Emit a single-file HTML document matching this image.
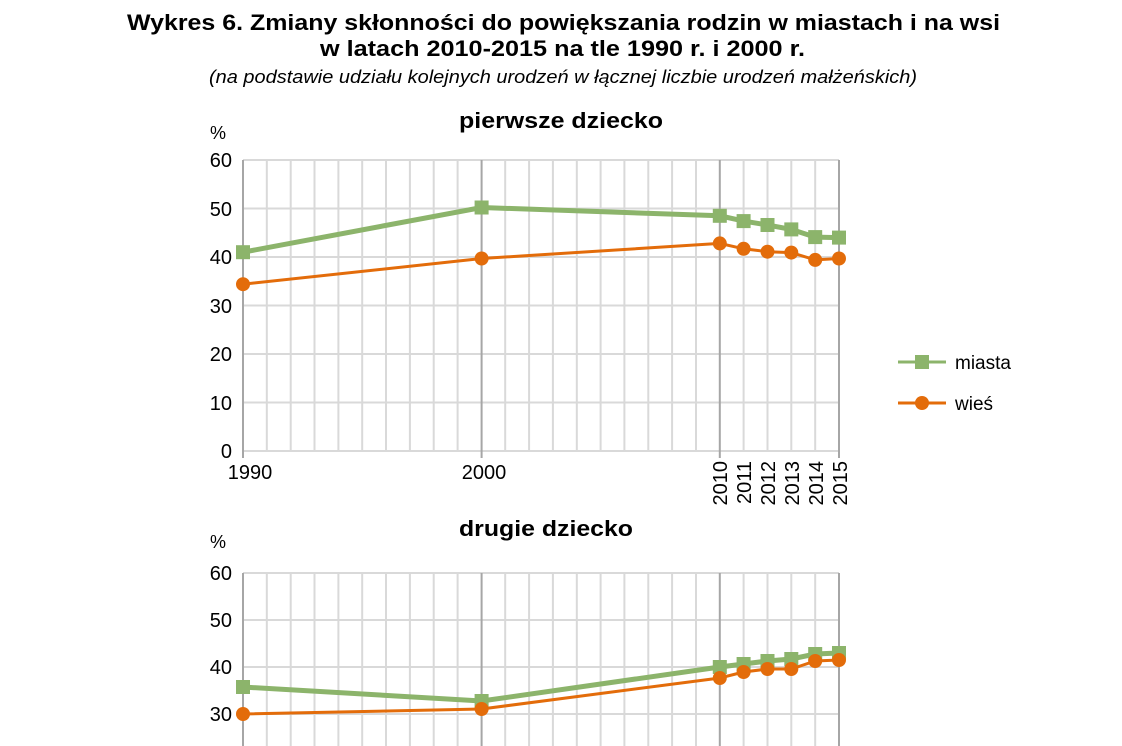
<!DOCTYPE html>
<html><head><meta charset="utf-8"><style>
body{margin:0;background:#fff;}
svg{display:block;font-family:"Liberation Sans",sans-serif;}
</style></head><body>
<svg width="1122" height="746" viewBox="0 0 1122 746">
<text x="127" y="30" font-size="22" font-weight="bold" textLength="873" lengthAdjust="spacingAndGlyphs">Wykres 6. Zmiany skłonności do powiększania rodzin w miastach i na wsi</text>
<text x="320" y="56" font-size="22" font-weight="bold" textLength="485" lengthAdjust="spacingAndGlyphs">w latach 2010-2015 na tle 1990 r. i 2000 r.</text>
<text x="209" y="83" font-size="18" font-style="italic" textLength="708" lengthAdjust="spacingAndGlyphs">(na podstawie udziału kolejnych urodzeń w łącznej liczbie urodzeń małżeńskich)</text>
<text x="459" y="128" font-size="22" font-weight="bold" textLength="204" lengthAdjust="spacingAndGlyphs">pierwsze dziecko</text>
<text x="210" y="139" font-size="18">%</text>
<g stroke="#d9d9d9" stroke-width="2">
<line x1="243" y1="160" x2="839" y2="160"/><line x1="243" y1="208.5" x2="839" y2="208.5"/><line x1="243" y1="257" x2="839" y2="257"/><line x1="243" y1="305.5" x2="839" y2="305.5"/><line x1="243" y1="354" x2="839" y2="354"/><line x1="243" y1="402.5" x2="839" y2="402.5"/><line x1="243" y1="451" x2="839" y2="451"/>
<line x1="266.8" y1="160" x2="266.8" y2="451"/><line x1="290.7" y1="160" x2="290.7" y2="451"/><line x1="314.5" y1="160" x2="314.5" y2="451"/><line x1="338.4" y1="160" x2="338.4" y2="451"/><line x1="362.2" y1="160" x2="362.2" y2="451"/><line x1="386" y1="160" x2="386" y2="451"/><line x1="409.9" y1="160" x2="409.9" y2="451"/><line x1="433.7" y1="160" x2="433.7" y2="451"/><line x1="457.6" y1="160" x2="457.6" y2="451"/>
<line x1="505.2" y1="160" x2="505.2" y2="451"/><line x1="529.1" y1="160" x2="529.1" y2="451"/><line x1="552.9" y1="160" x2="552.9" y2="451"/><line x1="576.8" y1="160" x2="576.8" y2="451"/><line x1="600.6" y1="160" x2="600.6" y2="451"/><line x1="624.4" y1="160" x2="624.4" y2="451"/><line x1="648.3" y1="160" x2="648.3" y2="451"/><line x1="672.1" y1="160" x2="672.1" y2="451"/><line x1="696" y1="160" x2="696" y2="451"/>
<line x1="743.6" y1="160" x2="743.6" y2="451"/><line x1="767.5" y1="160" x2="767.5" y2="451"/><line x1="791.3" y1="160" x2="791.3" y2="451"/><line x1="815.2" y1="160" x2="815.2" y2="451"/>
</g>
<g stroke="#a6a6a6" stroke-width="2">
<line x1="243" y1="160" x2="243" y2="458"/><line x1="481.6" y1="160" x2="481.6" y2="458"/><line x1="719.8" y1="160" x2="719.8" y2="458"/><line x1="839" y1="160" x2="839" y2="458"/>
</g>
<g font-size="20" text-anchor="end">
<text x="232" y="167">60</text><text x="232" y="216">50</text><text x="232" y="264">40</text><text x="232" y="313">30</text><text x="232" y="361">20</text><text x="232" y="410">10</text><text x="232" y="458">0</text>
</g>
<g font-size="20" text-anchor="middle"><text x="250" y="479">1990</text><text x="484" y="479">2000</text></g>
<g font-size="20" text-anchor="end">
<text transform="translate(727,461) rotate(-90)">2010</text><text transform="translate(751,461) rotate(-90)">2011</text><text transform="translate(775,461) rotate(-90)">2012</text><text transform="translate(799,461) rotate(-90)">2013</text><text transform="translate(823,461) rotate(-90)">2014</text><text transform="translate(847,461) rotate(-90)">2015</text>
</g>
<polyline fill="none" stroke="#8cb46b" stroke-width="5" points="243,252.2 481.6,207.5 719.8,215.8 743.6,221.1 767.5,225 791.3,229.4 815.2,237.1 839,237.6"/>
<g fill="#8cb46b"><rect x="236" y="245.2" width="14" height="14"/><rect x="474.6" y="200.5" width="14" height="14"/><rect x="712.8" y="208.8" width="14" height="14"/><rect x="736.6" y="214.1" width="14" height="14"/><rect x="760.5" y="218" width="14" height="14"/><rect x="784.3" y="222.4" width="14" height="14"/><rect x="808.2" y="230.1" width="14" height="14"/><rect x="832" y="230.6" width="14" height="14"/></g>
<polyline fill="none" stroke="#e36c0a" stroke-width="3" points="243,284.2 481.6,258.5 719.8,243.4 743.6,248.8 767.5,251.7 791.3,252.6 815.2,259.9 839,258.5"/>
<g fill="#e36c0a"><circle cx="243" cy="284.2" r="7"/><circle cx="481.6" cy="258.5" r="7"/><circle cx="719.8" cy="243.4" r="7"/><circle cx="743.6" cy="248.8" r="7"/><circle cx="767.5" cy="251.7" r="7"/><circle cx="791.3" cy="252.6" r="7"/><circle cx="815.2" cy="259.9" r="7"/><circle cx="839" cy="258.5" r="7"/></g>
<line x1="898" y1="362" x2="946" y2="362" stroke="#8cb46b" stroke-width="3"/><rect x="915" y="355" width="14" height="14" fill="#8cb46b"/>
<text x="955" y="369" font-size="19">miasta</text>
<line x1="898" y1="403" x2="946" y2="403" stroke="#e36c0a" stroke-width="3"/><circle cx="922" cy="403" r="7" fill="#e36c0a"/>
<text x="955" y="410" font-size="19">wieś</text>

<text x="459" y="536" font-size="22" font-weight="bold" textLength="174" lengthAdjust="spacingAndGlyphs">drugie dziecko</text>
<text x="210" y="548" font-size="18">%</text>
<g stroke="#d9d9d9" stroke-width="2">
<line x1="243" y1="573" x2="839" y2="573"/><line x1="243" y1="620" x2="839" y2="620"/><line x1="243" y1="667" x2="839" y2="667"/><line x1="243" y1="714" x2="839" y2="714"/>
<line x1="266.8" y1="573" x2="266.8" y2="746"/><line x1="290.7" y1="573" x2="290.7" y2="746"/><line x1="314.5" y1="573" x2="314.5" y2="746"/><line x1="338.4" y1="573" x2="338.4" y2="746"/><line x1="362.2" y1="573" x2="362.2" y2="746"/><line x1="386" y1="573" x2="386" y2="746"/><line x1="409.9" y1="573" x2="409.9" y2="746"/><line x1="433.7" y1="573" x2="433.7" y2="746"/><line x1="457.6" y1="573" x2="457.6" y2="746"/>
<line x1="505.2" y1="573" x2="505.2" y2="746"/><line x1="529.1" y1="573" x2="529.1" y2="746"/><line x1="552.9" y1="573" x2="552.9" y2="746"/><line x1="576.8" y1="573" x2="576.8" y2="746"/><line x1="600.6" y1="573" x2="600.6" y2="746"/><line x1="624.4" y1="573" x2="624.4" y2="746"/><line x1="648.3" y1="573" x2="648.3" y2="746"/><line x1="672.1" y1="573" x2="672.1" y2="746"/><line x1="696" y1="573" x2="696" y2="746"/>
<line x1="743.6" y1="573" x2="743.6" y2="746"/><line x1="767.5" y1="573" x2="767.5" y2="746"/><line x1="791.3" y1="573" x2="791.3" y2="746"/><line x1="815.2" y1="573" x2="815.2" y2="746"/>
</g>
<g stroke="#a6a6a6" stroke-width="2">
<line x1="243" y1="573" x2="243" y2="746"/><line x1="481.6" y1="573" x2="481.6" y2="746"/><line x1="719.8" y1="573" x2="719.8" y2="746"/><line x1="839" y1="573" x2="839" y2="746"/>
</g>
<g font-size="20" text-anchor="end">
<text x="232" y="580">60</text><text x="232" y="627">50</text><text x="232" y="674">40</text><text x="232" y="721">30</text>
</g>
<polyline fill="none" stroke="#8cb46b" stroke-width="5" points="243,687 481.6,701 719.8,667 743.6,664 767.5,661 791.3,659 815.2,654 839,653"/>
<g fill="#8cb46b"><rect x="236" y="680" width="14" height="14"/><rect x="474.6" y="694" width="14" height="14"/><rect x="712.8" y="660" width="14" height="14"/><rect x="736.6" y="657" width="14" height="14"/><rect x="760.5" y="654" width="14" height="14"/><rect x="784.3" y="652" width="14" height="14"/><rect x="808.2" y="647" width="14" height="14"/><rect x="832" y="646" width="14" height="14"/></g>
<polyline fill="none" stroke="#e36c0a" stroke-width="3" points="243,714 481.6,709 719.8,678 743.6,672 767.5,669 791.3,669 815.2,661 839,660"/>
<g fill="#e36c0a"><circle cx="243" cy="714" r="7"/><circle cx="481.6" cy="709" r="7"/><circle cx="719.8" cy="678" r="7"/><circle cx="743.6" cy="672" r="7"/><circle cx="767.5" cy="669" r="7"/><circle cx="791.3" cy="669" r="7"/><circle cx="815.2" cy="661" r="7"/><circle cx="839" cy="660" r="7"/></g>
</svg>
</body></html>
